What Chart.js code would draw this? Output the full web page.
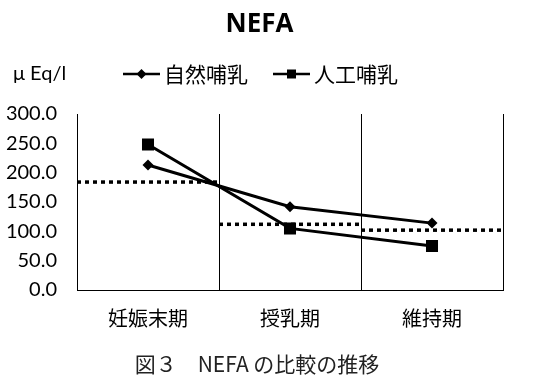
<!DOCTYPE html>
<html>
<head>
<meta charset="utf-8">
<script src="https://cdn.jsdelivr.net/npm/chart.js@4/dist/chart.umd.min.js"></script>
<style>
  html, body { margin: 0; padding: 0; background: #fff; }
  #wrap { width: 552px; height: 383px; }
</style>
</head>
<body>
<div id="wrap"><canvas id="c" width="552" height="383"></canvas></div>
<script>
// NEFA by period, natural vs artificial feeding (μEq/l)
const periods = ['妊娠末期', '授乳期', '維持期'];
const naturalFeeding = [213, 142, 114];
const artificialFeeding = [248, 105, 75];
// dotted reference level for each period
const referenceLevels = [184, 112, 102];
const seriesNames = ['自然哺乳', '人工哺乳'];
const unitLabel = 'μ Eq/l';
const chartTitle = 'NEFA';
const caption = '図３　NEFA の比較の推移';
const yMin = 0, yMax = 300, yStep = 50;

const CJK = '"Noto Sans CJK JP", "Noto Sans CJK SC", sans-serif';
const INK = '#000';

// one dotted segment per period, spanning that period's column
const referenceSets = referenceLevels.map((v, i) => ({
  label: 'ref' + i,
  data: [{ x: i - 0.5, y: v }, { x: i + 0.5, y: v }],
  xAxisID: 'xr',
  borderColor: INK,
  borderWidth: 3.5,
  borderDash: [4, 4],
  pointRadius: 0,
  fill: false
}));

// title, unit label, legend (keys show line + marker) and caption
const headerPlugin = {
  id: 'header',
  afterDraw(chart) {
    const c = chart.ctx;
    c.save();
    c.fillStyle = INK;
    c.strokeStyle = INK;

    c.textAlign = 'center';
    c.textBaseline = 'alphabetic';
    c.font = 'bold 26px "Open Sans"';
    c.fillText(chartTitle, 259.5, 32);

    c.textAlign = 'center';
    c.textBaseline = 'middle';
    c.fillStyle = '#222';
    c.font = '21px ' + CJK;
    c.fillText(caption, 257, 364);

    const y = 74;
    c.fillStyle = INK;
    c.textAlign = 'left';
    c.font = '20px Lato';
    c.fillText(unitLabel, 13, y);
    const keys = [
      { x: 123, style: 'rectRot', name: seriesNames[0] },
      { x: 273, style: 'rect', name: seriesNames[1] }
    ];
    keys.forEach(k => {
      c.lineWidth = 2.5;
      c.beginPath();
      c.moveTo(k.x, y);
      c.lineTo(k.x + 37, y);
      c.stroke();
      const mx = k.x + 18.5;
      c.beginPath();
      if (k.style === 'rectRot') {
        c.moveTo(mx, y - 5); c.lineTo(mx + 5, y); c.lineTo(mx, y + 5); c.lineTo(mx - 5, y);
      } else {
        c.rect(mx - 4.5, y - 4.5, 9, 9);
      }
      c.closePath();
      c.fill();
      c.font = '21px ' + CJK;
      c.fillText(k.name, k.x + 41, y);
    });
    c.restore();
  }
};

new Chart(document.getElementById('c'), {
  type: 'line',
  data: {
    labels: periods,
    datasets: [
      {
        label: seriesNames[0],
        data: naturalFeeding,
        borderColor: INK, backgroundColor: INK,
        borderWidth: 3, tension: 0,
        pointStyle: 'rectRot', pointRadius: 5.5, pointBorderWidth: 0,
        pointBackgroundColor: INK
      },
      {
        label: seriesNames[1],
        data: artificialFeeding,
        borderColor: INK, backgroundColor: INK,
        borderWidth: 3, tension: 0,
        pointStyle: 'rect', pointRadius: 8.5, pointBorderWidth: 0,
        pointBackgroundColor: INK
      },
      ...referenceSets
    ]
  },
  options: {
    responsive: false,
    animation: false,
    layout: { padding: { left: 0, right: 49, top: 114, bottom: 0 } },
    plugins: {
      legend: { display: false },
      tooltip: { enabled: false },
      title: { display: false },
      subtitle: { display: false }
    },
    scales: {
      x: {
        type: 'category',
        offset: true,
        grid: { offset: true, color: INK, lineWidth: 1, drawTicks: false },
        border: { display: true, color: INK, width: 1 },
        ticks: { color: INK, font: { family: CJK, size: 20 }, padding: 16 },
        afterFit(s) { s.height = 93; }
      },
      xr: { type: 'linear', display: false, min: -0.5, max: 2.5 },
      y: {
        min: yMin, max: yMax,
        grid: { display: false, drawTicks: false },
        border: { display: true, color: INK, width: 1 },
        ticks: {
          stepSize: yStep,
          color: INK,
          padding: 20,
          font: { family: 'Lato', size: 20 },
          callback: v => Number(v).toFixed(1)
        },
        afterFit(s) { s.width = 77; }
      }
    }
  },
  plugins: [headerPlugin]
});
</script>
</body>
</html>
